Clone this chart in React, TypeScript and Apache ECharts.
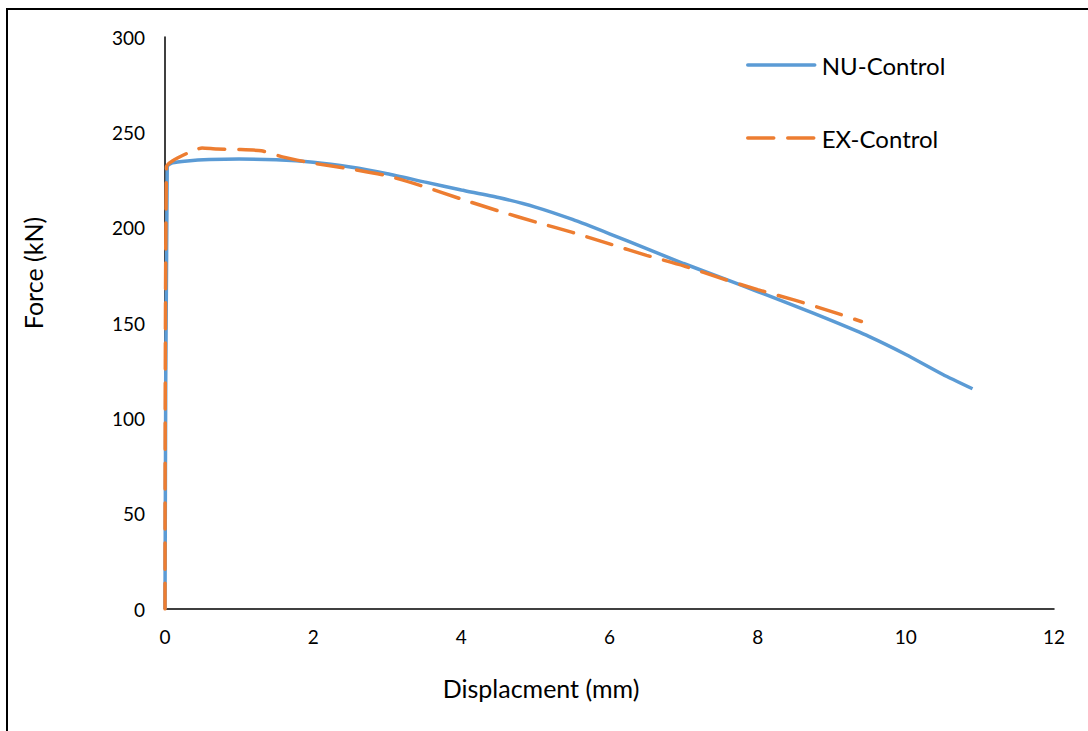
import React, { useEffect, useRef } from "react";
import * as echarts from "echarts";

const nuX = [0, 0.03, 0.1, 0.3, 0.6, 1.0, 1.5, 2.0, 2.5, 3.0, 3.5, 4.0, 4.5, 5.0, 5.5, 6.0, 6.5, 7.0, 7.5, 8.0, 8.5, 9.0, 9.5, 10.0, 10.5, 10.9];
const nuY = [0, 232, 234, 235, 235.7, 236, 235.6, 234.3, 231.8, 228.3, 224, 219.8, 215.8, 210.8, 204.3, 196.8, 189, 181.2, 173.9, 166.5, 159, 151.2, 143, 133.5, 123, 115.5];

const exX = [0, 0.02, 0.1, 0.3, 0.5, 0.7, 1.0, 1.3, 1.6, 2.0, 2.5, 3.0, 3.5, 4.0, 4.5, 5.0, 5.5, 6.0, 6.5, 7.0, 7.5, 8.0, 8.5, 9.0, 9.4];
const exY = [0, 232, 235, 239, 241.8, 241.2, 241, 240.3, 237, 233.8, 230.8, 227.2, 221.5, 215, 208.8, 203, 197.5, 191.5, 185.5, 180, 173.5, 167.5, 162, 156, 150.8];

const xTicks = { min: 0, max: 12, interval: 2 };
const yTicks = { min: 0, max: 300, interval: 50 };

const FONT = "Lato";

export default function App() {
  const ref = useRef<HTMLDivElement>(null);
  useEffect(() => {
    const chart = echarts.init(ref.current!, null, { renderer: "svg" });
    chart.setOption({
      animation: false,
      backgroundColor: "#ffffff",
      textStyle: { fontFamily: FONT },
      graphic: [
        {
          type: "rect",
          shape: { x: 7, y: 9, width: 1200, height: 900 },
          style: { fill: "none", stroke: "#000", lineWidth: 2 },
          silent: true,
        },
      ],
      grid: { left: 165, right: 34, top: 37, bottom: 122, containLabel: false },
      legend: {
        orient: "vertical",
        left: 741,
        top: 48,
        itemWidth: 67,
        itemHeight: 14,
        itemGap: 49,
        itemStyle: { opacity: 0 },
        lineStyle: { width: 3.5, cap: "round" },
        textStyle: { fontFamily: FONT, fontSize: 24, color: "#000", lineHeight: 24, padding: [0, 0, 0, 2] },
        data: ["NU-Control", "EX-Control"],
      },
      xAxis: {
        type: "value",
        ...xTicks,
        name: "Displacment (mm)",
        nameLocation: "middle",
        nameGap: 66,
        nameTextStyle: { fontFamily: FONT, fontSize: 25, color: "#000", padding: [0, 137, 0, 0] },
        axisLine: { show: true, lineStyle: { color: "#000", width: 1.5 } },
        axisTick: { show: false },
        splitLine: { show: false },
        axisLabel: { fontFamily: FONT, fontSize: 19, color: "#000", margin: 18 },
      },
      yAxis: {
        type: "value",
        ...yTicks,
        name: "Force (kN)",
        nameLocation: "middle",
        nameGap: 120,
        nameTextStyle: { fontFamily: FONT, fontSize: 25, color: "#000", padding: [0, 0, 0, 100] },
        axisLine: { show: true, lineStyle: { color: "#000", width: 1.5 } },
        axisTick: { show: false },
        splitLine: { show: false },
        axisLabel: { fontFamily: FONT, fontSize: 19, color: "#000", margin: 20 },
      },
      series: [
        {
          name: "NU-Control",
          type: "line",
          data: nuX.map((x, i) => [x, nuY[i]]),
          symbol: "none",
          smooth: 0.2,
          lineStyle: { color: "#5B9BD5", width: 3.5 },
          itemStyle: { color: "#5B9BD5" },
        },
        {
          name: "EX-Control",
          type: "line",
          data: exX.map((x, i) => [x, exY[i]]),
          symbol: "none",
          smooth: 0.2,
          lineStyle: { color: "#ED7D31", width: 3.5, type: [26, 14], cap: "round" },
          itemStyle: { color: "#ED7D31" },
        },
      ],
    });
    return () => chart.dispose();
  }, []);
  return <div ref={ref} style={{ position: "absolute", left: 0, top: 0, width: 1088, height: 731 }} />;
}
